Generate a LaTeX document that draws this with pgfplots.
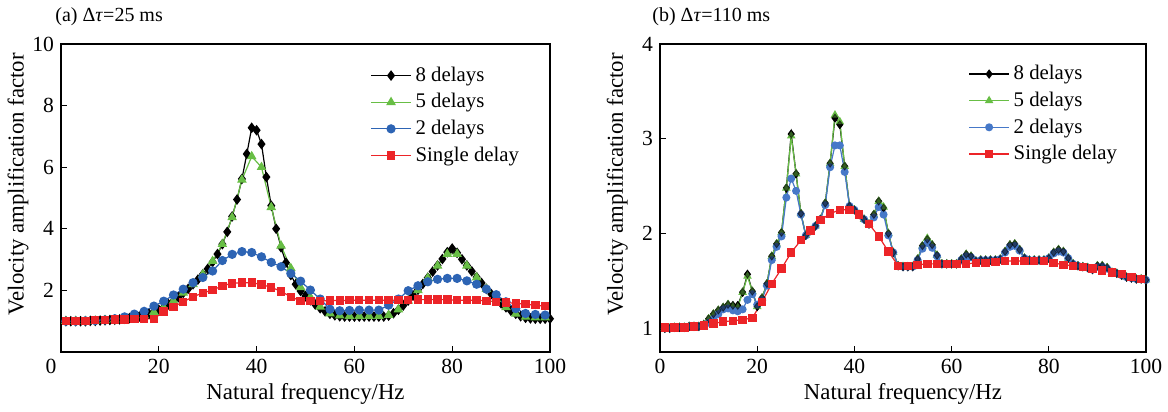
\documentclass[border=0pt]{standalone}
\usepackage{fontspec}
\setmainfont{Liberation Serif}
\usepackage{pgfplots}
\usepackage{pgfplotstable}
\pgfplotsset{compat=1.18}
\definecolor{cgreen}{RGB}{104,190,69}
\definecolor{cblue}{RGB}{45,100,180}
\definecolor{cblueb}{RGB}{70,120,200}
\definecolor{cred}{RGB}{236,36,40}
\pgfplotstableread{
f v
1 1.00
2 1.00
3 1.01
4 1.01
5 1.01
6 1.02
7 1.02
8 1.02
9 1.04
10 1.10
11 1.15
12 1.19
13 1.22
14 1.25
15 1.24
16 1.24
17 1.38
18 1.57
19 1.39
20 1.23
21 1.32
22 1.47
23 1.76
24 1.89
25 2.01
26 2.48
27 3.05
28 2.63
29 2.21
30 1.98
31 2.03
32 2.08
33 2.15
34 2.32
35 2.74
36 3.22
37 3.15
38 2.71
39 2.29
40 2.25
41 2.20
42 2.15
43 2.10
44 2.20
45 2.34
46 2.27
47 2.00
48 1.80
49 1.66
50 1.65
51 1.65
52 1.65
53 1.73
54 1.87
55 1.94
56 1.88
57 1.77
58 1.68
59 1.68
60 1.68
61 1.68
62 1.73
63 1.78
64 1.76
65 1.71
66 1.72
67 1.72
68 1.72
69 1.72
70 1.73
71 1.81
72 1.88
73 1.89
74 1.83
75 1.74
76 1.72
77 1.72
78 1.72
79 1.72
80 1.74
81 1.80
82 1.83
83 1.81
84 1.74
85 1.68
86 1.66
87 1.65
88 1.64
89 1.62
90 1.66
91 1.66
92 1.64
93 1.59
94 1.58
95 1.56
96 1.54
97 1.53
98 1.52
99 1.52
100 1.51
}\rblack
\begin{document}
\begin{tikzpicture}
\path[use as bounding box] (-30.5pt,-30pt) rectangle (553.5pt,176pt);
\pgfplotsset{
 myax/.style={scale only axis, width=244.5pt, height=154pt, xmin=0, xmax=100,
  axis line style={line width=0.6pt}, tick align=inside, tick pos=left,
  major tick length=3pt, tick style={black, line width=0.5pt},
  ticklabel style={font=\fontsize{10.8}{13}\selectfont},
  label style={font=\fontsize{11.4}{14}\selectfont},
  xlabel={Natural frequency/Hz}, ylabel={Velocity amplification factor},
  xlabel style={at={(axis description cs:0.5,-0.136)}, anchor=center},
  ylabel style={at={(axis description cs:-0.088,0.545)}, anchor=center},
  /pgf/number format/assume math mode=true,
  legend style={draw=none, fill=none, font=\fontsize{10.4}{12.5}\selectfont, anchor=north west, row sep=0.6pt, inner sep=0pt},
  legend cell align=left,
  legend image code/.code={\draw[mark repeat=2,mark phase=2,##1] plot coordinates {(0pt,0pt) (10pt,0pt) (20pt,0pt)};},
 },
 kb/.style={black, line width=0.6pt, mark=diamond*, mark size=2.2pt, mark options={fill=black}},
 kg/.style={cgreen, line width=0.6pt, mark=triangle*, mark size=2.2pt, mark options={fill=cgreen}},
 kbl/.style={cblue, line width=0.6pt, mark=*, mark size=2pt, mark options={fill=cblue}},
 kr/.style={cred, line width=0.6pt, mark=square*, mark size=1.8pt, mark options={fill=cred}},
}
\begin{axis}[myax, name=ax1, at={(0pt,0pt)}, anchor=south west,
  ymin=0, ymax=10, ytick={2,4,6,8,10}, xtick={20,40,60,80,100},
  extra x ticks={0}, extra x tick style={xticklabel style={xshift=-5pt}},
  legend style={at={(0.632,0.94)}}]
\addplot[kb] coordinates {(1,1.00)(2,1.00)(3,1.00)(4,1.00)(5,1.00)(6,1.01)(7,1.01)(8,1.02)(9,1.03)(10,1.04)
(11,1.05)(12,1.06)(13,1.08)(14,1.10)(15,1.12)(16,1.15)(17,1.19)(18,1.24)(19,1.30)(20,1.37)
(21,1.45)(22,1.55)(23,1.66)(24,1.78)(25,1.92)(26,2.05)(27,2.20)(28,2.35)(29,2.52)(30,2.70)
(31,2.92)(32,3.18)(33,3.50)(34,3.90)(35,4.40)(36,4.95)(37,5.62)(38,6.43)(39,7.28)(40,7.20)
(41,6.75)(42,5.68)(43,4.75)(44,4.00)(45,3.40)(46,2.90)(47,2.50)(48,2.20)(49,1.98)(50,1.82)
(51,1.68)(52,1.54)(53,1.42)(54,1.32)(55,1.24)(56,1.19)(57,1.16)(58,1.15)(59,1.15)(60,1.15)
(61,1.15)(62,1.15)(63,1.15)(64,1.15)(65,1.15)(66,1.15)(67,1.18)(68,1.26)(69,1.37)(70,1.51)
(71,1.67)(72,1.84)(73,2.02)(74,2.21)(75,2.41)(76,2.61)(77,2.81)(78,3.02)(79,3.24)(80,3.36)
(81,3.22)(82,3.01)(83,2.81)(84,2.62)(85,2.43)(86,2.24)(87,2.05)(88,1.88)(89,1.72)(90,1.58)
(91,1.45)(92,1.34)(93,1.24)(94,1.16)(95,1.11)(96,1.09)(97,1.08)(98,1.08)(99,1.08)(100,1.08)};
\addlegendentry{8 delays}
\addplot[kg] coordinates {(1,1.00)(3,1.00)(5,1.00)(7,1.01)(9,1.03)(11,1.05)(13,1.08)(15,1.12)(17,1.19)(19,1.30)
(21,1.45)(23,1.66)(25,1.92)(27,2.20)(29,2.52)(31,2.95)(33,3.50)(35,4.37)(37,5.59)(39,6.35)
(41,6.00)(43,4.70)(45,3.45)(47,2.72)(49,2.10)(51,1.78)(53,1.47)(55,1.25)(57,1.18)(59,1.17)
(61,1.17)(63,1.17)(65,1.17)(67,1.20)(69,1.38)(71,1.66)(73,2.00)(75,2.40)(77,2.80)(79,3.18)
(81,3.18)(83,2.80)(85,2.42)(87,2.04)(89,1.72)(91,1.45)(93,1.24)(95,1.14)(97,1.12)(99,1.12)};
\addlegendentry{5 delays}
\addplot[kbl] coordinates {(1,1.00)(3,1.00)(5,1.01)(7,1.02)(9,1.04)(11,1.08)(13,1.14)(15,1.23)(17,1.32)(19,1.49)
(21,1.65)(23,1.85)(25,2.04)(27,2.25)(29,2.42)(31,2.63)(33,2.97)(35,3.17)(37,3.26)(39,3.23)
(41,3.09)(43,2.91)(45,2.77)(47,2.55)(49,2.30)(51,2.01)(53,1.72)(55,1.39)(57,1.34)(59,1.35)
(61,1.36)(63,1.36)(65,1.36)(67,1.52)(69,1.72)(71,1.99)(73,2.15)(75,2.28)(77,2.36)(79,2.39)
(81,2.39)(83,2.31)(85,2.20)(87,2.04)(89,1.86)(91,1.63)(93,1.41)(95,1.25)(97,1.22)(99,1.20)};
\addlegendentry{2 delays}
\addplot[kr] coordinates {(1,1.01)(3,1.01)(5,1.01)(7,1.03)(9,1.03)(11,1.05)(13,1.05)(15,1.07)(17,1.08)(19,1.08)
(21,1.31)(23,1.47)(25,1.63)(27,1.79)(29,1.92)(31,2.01)(33,2.15)(35,2.23)(37,2.25)(39,2.25)
(41,2.19)(43,2.10)(45,1.97)(47,1.79)(49,1.66)(51,1.65)(53,1.66)(55,1.67)(57,1.67)(59,1.68)
(61,1.68)(63,1.68)(65,1.68)(67,1.68)(69,1.68)(71,1.68)(73,1.70)(75,1.70)(77,1.70)(79,1.70)
(81,1.68)(83,1.68)(85,1.68)(87,1.66)(89,1.63)(91,1.61)(93,1.58)(95,1.55)(97,1.52)(99,1.49)};
\addlegendentry{Single delay}
\end{axis}
\node[anchor=west, font=\fontsize{10}{12}\selectfont, inner sep=0pt] at (ax1.north west) [xshift=-3pt, yshift=13.5pt] {(a) Δ\textit{τ}=25 ms};

\begin{axis}[myax, width=243pt, name=ax2, at={(299.5pt,0pt)}, anchor=south west,
  ymin=0.75, ymax=4, ytick={1,2,3,4}, xtick={0,20,40,60,80,100},
  legend style={at={(0.634,0.945)}}]
\addplot[kb, mark size=1.9pt] table[x=f, y=v] {\rblack};
\addlegendentry{8 delays}
\addplot[kg, mark size=1.9pt] coordinates {(1,1.00)(2,1.00)(3,1.01)(4,1.01)(5,1.01)(6,1.02)(7,1.02)(8,1.02)(9,1.04)(10,1.10)
(11,1.15)(12,1.19)(13,1.22)(14,1.25)(15,1.23)(16,1.22)(17,1.38)(18,1.55)(19,1.39)(20,1.23)
(21,1.32)(22,1.47)(23,1.76)(24,1.89)(25,2.01)(26,2.48)(27,3.03)(28,2.63)(29,2.21)(30,1.98)
(31,2.03)(32,2.08)(33,2.15)(34,2.32)(35,2.74)(36,3.25)(37,3.18)(38,2.71)(39,2.29)(40,2.25)
(41,2.20)(42,2.15)(43,2.10)(44,2.20)(45,2.34)(46,2.28)(47,2.00)(48,1.80)(49,1.66)(50,1.65)
(51,1.65)(52,1.65)(53,1.73)(54,1.87)(55,1.95)(56,1.88)(57,1.77)(58,1.68)(59,1.68)(60,1.68)
(61,1.68)(62,1.73)(63,1.78)(64,1.76)(65,1.71)(66,1.72)(67,1.72)(68,1.72)(69,1.72)(70,1.73)
(71,1.81)(72,1.88)(73,1.89)(74,1.83)(75,1.74)(76,1.72)(77,1.72)(78,1.72)(79,1.72)(80,1.74)
(81,1.80)(82,1.83)(83,1.81)(84,1.74)(85,1.68)(86,1.66)(87,1.65)(88,1.64)(89,1.62)(90,1.66)
(91,1.66)(92,1.64)(93,1.59)(94,1.58)(95,1.56)(96,1.54)(97,1.53)(98,1.52)(99,1.52)(100,1.51)};
\addlegendentry{5 delays}
\addplot[kbl, color=cblueb, mark options={fill=cblueb}, mark size=1.7pt] coordinates {(1,1.00)(2,1.00)(3,1.01)(4,1.01)(5,1.01)(6,1.02)(7,1.02)(8,1.02)(9,1.03)(10,1.06)
(11,1.10)(12,1.15)(13,1.20)(14,1.21)(15,1.19)(16,1.18)(17,1.20)(18,1.30)(19,1.36)(20,1.25)
(21,1.30)(22,1.45)(23,1.72)(24,1.86)(25,1.97)(26,2.38)(27,2.58)(28,2.45)(29,2.20)(30,1.98)
(31,2.03)(32,2.08)(33,2.15)(34,2.30)(35,2.70)(36,2.93)(37,2.93)(38,2.65)(39,2.29)(40,2.25)
(41,2.20)(42,2.15)(43,2.10)(44,2.17)(45,2.28)(46,2.20)(47,1.98)(48,1.80)(49,1.66)(50,1.65)
(51,1.65)(52,1.65)(53,1.72)(54,1.84)(55,1.90)(56,1.85)(57,1.76)(58,1.68)(59,1.68)(60,1.68)
(61,1.68)(62,1.72)(63,1.76)(64,1.75)(65,1.71)(66,1.72)(67,1.72)(68,1.72)(69,1.72)(70,1.73)
(71,1.80)(72,1.86)(73,1.87)(74,1.82)(75,1.74)(76,1.72)(77,1.72)(78,1.72)(79,1.72)(80,1.74)
(81,1.79)(82,1.81)(83,1.80)(84,1.74)(85,1.68)(86,1.66)(87,1.65)(88,1.64)(89,1.62)(90,1.65)
(91,1.65)(92,1.63)(93,1.59)(94,1.58)(95,1.56)(96,1.54)(97,1.53)(98,1.52)(99,1.52)(100,1.51)};
\addlegendentry{2 delays}
\addplot[forget plot, only marks, mark=diamond*, mark size=1.9pt, black, opacity=0.5] table[x=f, y=v] {\rblack};
\addplot[kr] coordinates {(1,1.01)(3,1.01)(5,1.01)(7,1.02)(9,1.03)(11,1.05)(13,1.07)(15,1.08)(17,1.09)(19,1.11)
(21,1.28)(23,1.47)(25,1.63)(27,1.80)(29,1.93)(31,2.03)(33,2.14)(35,2.21)(37,2.25)(39,2.25)
(41,2.20)(43,2.10)(45,1.97)(47,1.81)(49,1.66)(51,1.66)(53,1.67)(55,1.68)(57,1.68)(59,1.68)
(61,1.68)(63,1.68)(65,1.69)(67,1.69)(69,1.70)(71,1.71)(73,1.71)(75,1.71)(77,1.71)(79,1.71)
(81,1.69)(83,1.67)(85,1.66)(87,1.65)(89,1.63)(91,1.61)(93,1.59)(95,1.57)(97,1.54)(99,1.52)};
\addlegendentry{Single delay}
\end{axis}
\node[anchor=west, font=\fontsize{10}{12}\selectfont, inner sep=0pt] at (ax2.north west) [xshift=-4pt, yshift=13.5pt] {(b) Δ\textit{τ}=110 ms};
\end{tikzpicture}
\end{document}
